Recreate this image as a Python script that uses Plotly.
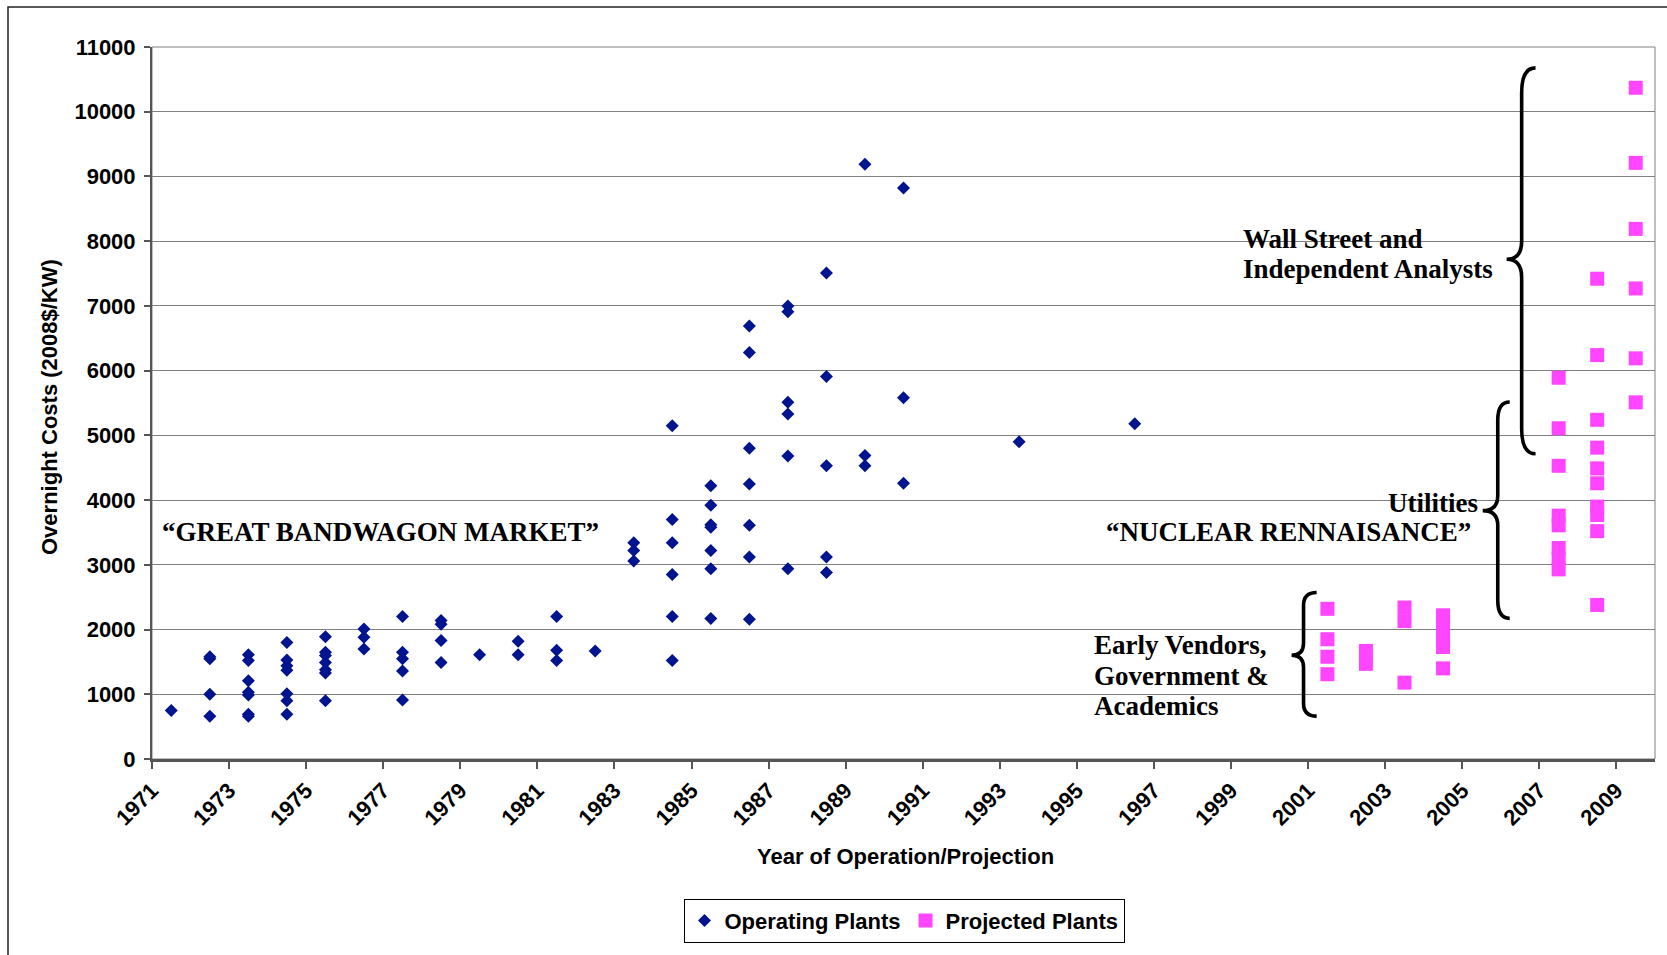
import plotly.graph_objects as go

# ---------------- data ----------------
op_years = [1971, 1972, 1973, 1974, 1975, 1976, 1977, 1978, 1979, 1980,
            1981, 1982, 1983, 1984, 1985, 1986, 1987, 1988, 1989, 1990,
            1993, 1996]
op_costs = [
    [750],
    [1580, 1550, 1000, 660],
    [1610, 1520, 1210, 1030, 990, 690, 660],
    [1800, 1530, 1440, 1370, 1010, 900, 690],
    [1890, 1650, 1600, 1490, 1380, 1330, 900],
    [2010, 1880, 1700],
    [2200, 1650, 1550, 1360, 910],
    [2140, 2080, 1830, 1490],
    [1610],
    [1820, 1610],
    [2200, 1680, 1520],
    [1670],
    [3340, 3220, 3060],
    [5150, 3700, 3340, 2850, 2200, 1520],
    [4220, 3920, 3620, 3580, 3220, 2940, 2170],
    [6690, 6280, 4800, 4250, 3610, 3120, 2160],
    [7000, 6910, 5510, 5330, 4680, 2940],
    [7510, 5910, 4530, 3120, 2880],
    [9190, 4690, 4530],
    [8820, 5580, 4260],
    [4900],
    [5180],
]

proj_years = [2001, 2002, 2003, 2004, 2007, 2008, 2009]
proj_costs = [
    [2320, 1850, 1580, 1310],
    [1670, 1470],
    [2340, 2130, 1180],
    [2220, 2060, 1890, 1730, 1400],
    [5890, 5110, 4530, 3760, 3610, 3260, 3100, 2930],
    [7420, 6240, 5240, 4810, 4490, 4260, 3900, 3770, 3520, 2380],
    [10370, 9210, 8190, 7270, 6190, 5510],
]

series_names = ["Operating Plants", "Projected Plants"]
x_tick_years = list(range(1971, 2010, 2))
y_tick_values = list(range(0, 11001, 1000))
y_tick_text = [str(v) for v in y_tick_values]

# text labels (year, value) in data units
label_texts = ["\u201cGREAT BANDWAGON MARKET\u201d",
               "\u201cNUCLEAR RENNAISANCE\u201d",
               "Utilities",
               "Wall Street and", "Independent Analysts",
               "Early Vendors,", "Government &", "Academics"]
label_x = [1976.93, 2000.48, 2004.23, 1999.25, 1999.25, 1995.40, 1995.40, 1995.40]
label_y = [3500, 3500, 3960, 8040, 7565, 1757, 1279, 817]
label_anchor = ["center", "center", "center", "left", "left", "left", "left", "left"]

# braces: (tip year, spine year, end year, top, middle, bottom, end radius, mid radius)
braces = [
    (2006.15, 2006.54, 2006.90, 10678, 7720, 4715, 390, 280),
    (2005.53, 2005.92, 2006.23, 5516, 3837, 2173, 280, 230),
    (2000.57, 2000.88, 2001.22, 2573, 1602, 663, 200, 185),
]

# ---------------- figure ----------------
def flatten(years, costs):
    xs, ys = [], []
    for yr, vals in zip(years, costs):
        for v in vals:
            xs.append(yr + 0.5)   # plotted in the middle of the year band
            ys.append(v)
    return xs, ys

ox, oy = flatten(op_years, op_costs)
px_, py_ = flatten(proj_years, proj_costs)

SANS = "Liberation Sans, Arial, sans-serif"
SERIF = "Times New Roman, Liberation Serif, serif"

fig = go.Figure()
fig.add_trace(go.Scatter(
    x=ox, y=oy, mode="markers", name=series_names[0],
    marker=dict(symbol="diamond", size=10, color="#00148F", line=dict(width=0)),
))
fig.add_trace(go.Scatter(
    x=px_, y=py_, mode="markers", name=series_names[1],
    marker=dict(symbol="square", size=14, color="#FF45FF", line=dict(width=0)),
))

W, H = 1667, 955
L, R, T, B = 152, 1655, 47, 761

def brace_path(xt, xs, xe, yT, yM, yB, re, rm):
    return (f"M {xe},{yT} Q {xs},{yT} {xs},{yT - re} "
            f"L {xs},{yM + rm} Q {xs},{yM} {xt},{yM} "
            f"Q {xs},{yM} {xs},{yM - rm} "
            f"L {xs},{yB + re} Q {xs},{yB} {xe},{yB}")

shapes = []
for b in braces:
    shapes.append(dict(type="path", xref="x", yref="y", path=brace_path(*b),
                       line=dict(color="black", width=3.6), layer="above"))
# plot-area border (right side)
shapes.append(dict(type="rect", xref="paper", yref="paper", x0=0, x1=1, y0=0, y1=1,
                   line=dict(color="#808080", width=1), layer="below"))
# outer chart frame (cropped at right/bottom like the reference)
px2paper_x = lambda p: (p - L) / (R - L)
px2paper_y = lambda p: (B - p) / (B - T)
shapes.append(dict(type="rect", xref="paper", yref="paper",
                   x0=px2paper_x(8), x1=px2paper_x(1700),
                   y0=px2paper_y(1000), y1=px2paper_y(7),
                   line=dict(color="#222222", width=1.5), layer="below"))

annotations = []
for t, x, y, a in zip(label_texts, label_x, label_y, label_anchor):
    annotations.append(dict(text=t, x=x, y=y, xref="x", yref="y", showarrow=False,
                            xanchor=a, yanchor="middle",
                            font=dict(family=SERIF, size=27, color="black", weight="bold")))
annotations.append(dict(text="Overnight Costs (2008$/KW)", textangle=-90,
                        x=px2paper_x(50), y=px2paper_y(408), xref="paper", yref="paper",
                        showarrow=False, xanchor="center", yanchor="middle",
                        font=dict(family=SANS, size=22, color="black", weight="bold")))
annotations.append(dict(text="Year of Operation/Projection",
                        x=px2paper_x(905), y=px2paper_y(859), xref="paper", yref="paper",
                        showarrow=False, xanchor="center", yanchor="middle",
                        font=dict(family=SANS, size=22, color="black", weight="bold")))

fig.update_layout(
    width=W, height=H,
    margin=dict(l=L, r=W - R, t=T, b=H - B, pad=0),
    paper_bgcolor="white", plot_bgcolor="white",
    showlegend=True,
    legend=dict(orientation="h", x=px2paper_x(904), xanchor="center",
                y=px2paper_y(901), yanchor="top",
                bordercolor="black", borderwidth=1, bgcolor="white",
                font=dict(family=SANS, size=22, color="black", weight="bold"),
                itemsizing="trace", traceorder="normal"),
    shapes=shapes,
    annotations=annotations,
    xaxis=dict(range=[1971, 2010], tickmode="array", tickvals=x_tick_years,
               ticktext=[str(v) for v in x_tick_years], tickangle=-45,
               showgrid=False, zeroline=False, showline=True,
               linecolor="#555555", linewidth=3, ticks="outside", ticklen=7,
               tickwidth=1.5, tickcolor="#555555",
               tickfont=dict(family=SANS, size=22, color="black", weight="bold")),
    yaxis=dict(range=[0, 11000], tickmode="array", tickvals=y_tick_values,
               ticktext=y_tick_text,
               showgrid=True, gridcolor="#808080", gridwidth=1,
               zeroline=False, showline=True, linecolor="#555555", linewidth=2,
               ticks="outside", ticklen=6, tickwidth=1.5, tickcolor="#555555",
               ticklabelstandoff=4,
               tickfont=dict(family=SANS, size=22, color="black", weight="bold")),
)

fig.write_html("out.html", config={"displayModeBar": False},
               post_script="document.body.style.margin='0';")
